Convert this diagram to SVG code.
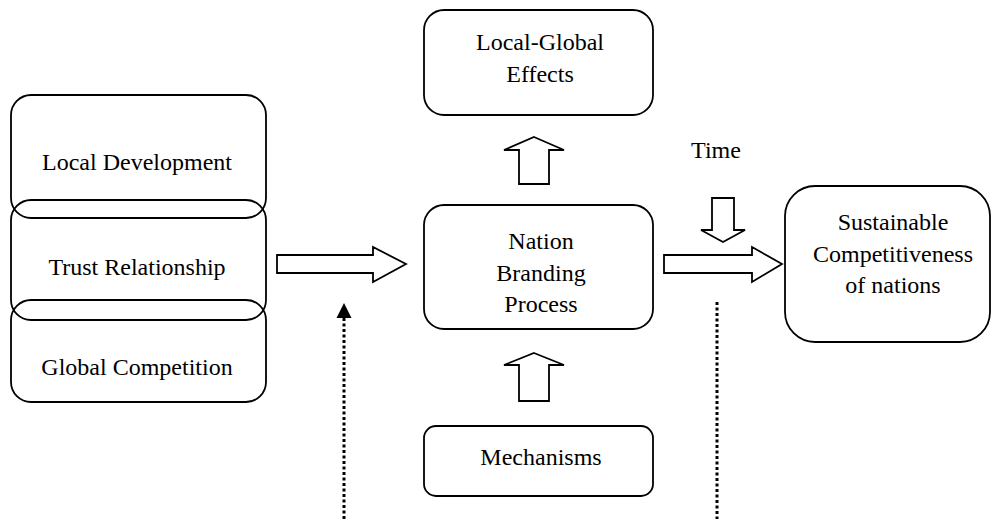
<svg xmlns="http://www.w3.org/2000/svg" width="992" height="519" viewBox="0 0 992 519">
<style>
.box{fill:none;stroke:#000;stroke-width:1.8}
.blk{fill:#fff;stroke:#000;stroke-width:1.8;stroke-linejoin:miter}
.dot{fill:none;stroke:#000;stroke-width:3;stroke-dasharray:3 2.5}
text{font-family:"Liberation Serif","Times New Roman",serif;font-size:24px;fill:#000;text-anchor:middle}
</style>
<defs>
<marker id="tri" viewBox="0 0 10 10" refX="10" refY="5" markerWidth="5" markerHeight="5" orient="auto" markerUnits="strokeWidth">
<path d="M0,0 L10,5 L0,10 z" fill="#000"/>
</marker>
</defs>
<rect width="992" height="519" fill="#fff"/>
<g id="local-development">
<rect class="box" x="11" y="95" width="255" height="123" rx="20" ry="20"/>
<text x="137" y="170">Local Development</text>
</g>
<g id="trust-relationship">
<rect class="box" x="11" y="200" width="255" height="120" rx="20" ry="20"/>
<text x="137" y="275">Trust Relationship</text>
</g>
<g id="global-competition">
<rect class="box" x="11" y="300" width="255" height="102" rx="20" ry="20"/>
<text x="137" y="375">Global Competition</text>
</g>
<g id="local-global-effects">
<rect class="box" x="424" y="10" width="229" height="105" rx="20" ry="20"/>
<text x="540" y="50">Local-Global</text>
<text x="540" y="82">Effects</text>
</g>
<g id="nation-branding-process">
<rect class="box" x="424" y="205" width="229" height="124" rx="20" ry="20"/>
<text x="541" y="249">Nation</text>
<text x="541" y="281">Branding</text>
<text x="541" y="312">Process</text>
</g>
<g id="mechanisms">
<rect class="box" x="424" y="426" width="229" height="70" rx="12" ry="12"/>
<text x="541" y="465">Mechanisms</text>
</g>
<g id="sustainable-competitiveness">
<rect class="box" x="785" y="186" width="205" height="156" rx="30" ry="30"/>
<text x="893" y="230">Sustainable</text>
<text x="893" y="262">Competitiveness</text>
<text x="893" y="293">of nations</text>
</g>
<g id="time">
<text x="716" y="158">Time</text>
</g>
<g id="connectors">
<polygon class="blk" points="277,255 373,255 373,247 406,264 373,282 373,273 277,273"/>
<polygon class="blk" points="664,255 752,255 752,247 782,264 752,282 752,273 664,273"/>
<polygon class="blk" points="712,198 734,198 734,230 745,230 723,242 701,230 712,230"/>
<polygon class="blk" points="534,137 564,150 549,150 549,184 519,184 519,150 504,150"/>
<polygon class="blk" points="534,353 564,365 549,365 549,401 519,401 519,365 504,365"/>
<line class="dot" x1="344" y1="519" x2="344" y2="318"/>
<polygon points="344,303 351.5,318 336.5,318" fill="#000"/>
<line class="dot" x1="717" y1="302" x2="717" y2="519"/>
</g>
</svg>
